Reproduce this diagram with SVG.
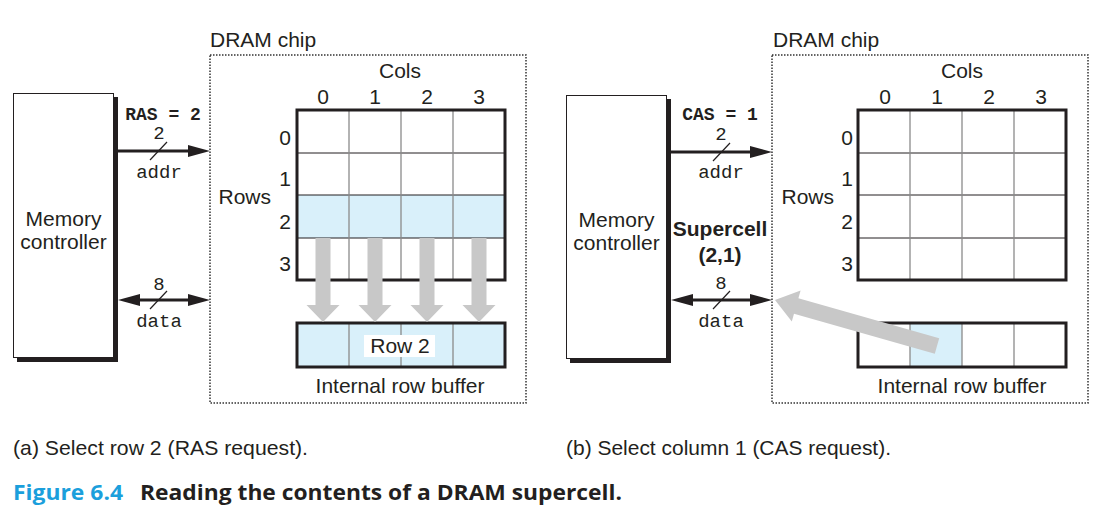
<svg xmlns="http://www.w3.org/2000/svg" width="1104" height="510" viewBox="0 0 1104 510">
<defs>
<style>
.sans{font-family:"Liberation Sans",Arial,sans-serif;fill:#231f20;font-size:21px}
.mid{text-anchor:middle}
.mono{font-family:"Liberation Mono","Courier New",monospace;fill:#231f20;font-size:19px;text-anchor:middle}
.monob{font-family:"Liberation Mono","Courier New",monospace;fill:#231f20;font-size:18px;font-weight:bold;text-anchor:middle}
.box{fill:#fff;stroke:#231f20;stroke-width:1}
.shadow{fill:#231f20}
.chip{fill:none;stroke:#333;stroke-width:1.5;stroke-dasharray:1.5 1.5}
.outer{fill:none;stroke:#231f20;stroke-width:3}
.hl{stroke:#231f20;stroke-width:1}
.vl{stroke:#8a8a8a;stroke-width:1.3}
.blue{fill:#d9f0fa}
.wire{stroke:#231f20;stroke-width:3;fill:none}
.head{fill:#231f20}
.slash{stroke:#231f20;stroke-width:1.2}
.gray{fill:#c8c8c8}
</style>
</defs>
<rect width="1104" height="510" fill="#fff"/>

<!-- LEFT PANEL (a) -->
<g id="a-controller">
<rect class="shadow" x="17" y="97" width="101" height="265"/>
<rect class="box" x="13.5" y="93.5" width="100" height="264"/>
<text class="sans mid" x="63.5" y="226">Memory</text>
<text class="sans mid" x="63.5" y="249">controller</text>
</g>
<g id="a-chip">
<rect class="chip" x="210" y="55" width="316" height="348"/>
<text class="sans" x="210" y="47">DRAM chip</text>
</g>
<g id="a-array">
<rect x="297" y="195" width="208" height="43" class="blue"/>
<line class="hl" x1="297" y1="153" x2="505" y2="153"/>
<line class="hl" x1="297" y1="195" x2="505" y2="195"/>
<line class="hl" x1="297" y1="238" x2="505" y2="238"/>
<line class="vl" x1="349" y1="110" x2="349" y2="280"/>
<line class="vl" x1="401" y1="110" x2="401" y2="280"/>
<line class="vl" x1="453" y1="110" x2="453" y2="280"/>
<rect class="outer" x="297" y="110" width="208" height="170"/>
<text class="sans mid" x="400" y="78">Cols</text>
<text class="sans mid" x="323" y="104">0</text>
<text class="sans mid" x="375" y="104">1</text>
<text class="sans mid" x="427" y="104">2</text>
<text class="sans mid" x="479" y="104">3</text>
<text class="sans" x="271" y="204" text-anchor="end">Rows</text>
<text class="sans mid" x="285" y="145">0</text>
<text class="sans mid" x="285" y="186">1</text>
<text class="sans mid" x="285" y="229">2</text>
<text class="sans mid" x="285" y="271">3</text>
</g>
<g id="a-buffer">
<rect x="297" y="323" width="208" height="44" class="blue"/>
<line class="vl" x1="349" y1="323" x2="349" y2="367"/>
<line class="vl" x1="401" y1="323" x2="401" y2="367"/>
<line class="vl" x1="453" y1="323" x2="453" y2="367"/>
<rect class="outer" x="297" y="323" width="208" height="44"/>
<rect x="364" y="335" width="71" height="22" fill="#fff"/>
<text class="sans mid" x="400" y="353">Row 2</text>
<text class="sans mid" x="400" y="393">Internal row buffer</text>
</g>

<!-- RIGHT PANEL (b) -->
<g id="b-controller">
<rect class="shadow" x="570" y="99" width="101" height="264"/>
<rect class="box" x="566.5" y="95.5" width="100" height="263"/>
<text class="sans mid" x="616.5" y="227">Memory</text>
<text class="sans mid" x="616.5" y="250">controller</text>
</g>
<g id="b-chip">
<rect class="chip" x="772" y="55" width="316" height="348"/>
<text class="sans" x="773" y="47">DRAM chip</text>
</g>
<g id="b-array">
<line class="hl" x1="858" y1="153" x2="1066" y2="153"/>
<line class="hl" x1="858" y1="195" x2="1066" y2="195"/>
<line class="hl" x1="858" y1="238" x2="1066" y2="238"/>
<line class="vl" x1="910" y1="110" x2="910" y2="280"/>
<line class="vl" x1="962" y1="110" x2="962" y2="280"/>
<line class="vl" x1="1014" y1="110" x2="1014" y2="280"/>
<rect class="outer" x="858" y="110" width="208" height="170"/>
<text class="sans mid" x="962" y="78">Cols</text>
<text class="sans mid" x="885" y="104">0</text>
<text class="sans mid" x="937" y="104">1</text>
<text class="sans mid" x="989" y="104">2</text>
<text class="sans mid" x="1041" y="104">3</text>
<text class="sans" x="834" y="204" text-anchor="end">Rows</text>
<text class="sans mid" x="847" y="145">0</text>
<text class="sans mid" x="847" y="186">1</text>
<text class="sans mid" x="847" y="229">2</text>
<text class="sans mid" x="847" y="271">3</text>
</g>
<g id="b-buffer">
<rect x="910" y="323" width="52" height="44" class="blue"/>
<line class="vl" x1="910" y1="323" x2="910" y2="367"/>
<line class="vl" x1="962" y1="323" x2="962" y2="367"/>
<line class="vl" x1="1014" y1="323" x2="1014" y2="367"/>
<rect class="outer" x="858" y="323" width="208" height="44"/>
<text class="sans mid" x="962" y="393">Internal row buffer</text>
</g>
<g id="b-supercell">
<text class="sans mid" x="720" y="236" font-weight="bold">Supercell</text>
<text class="sans mid" x="720" y="262" font-weight="bold">(2,1)</text>
</g>

<!-- CONNECTORS -->
<g id="connectors">
<line class="wire" x1="118" y1="151" x2="192" y2="151"/>
<polygon class="head" points="188,145 210,151 188,157"/>
<line class="slash" x1="150" y1="160" x2="167" y2="142"/>
<line class="wire" x1="136" y1="300" x2="192" y2="300"/>
<polygon class="head" points="140,294 118,300 140,306"/>
<polygon class="head" points="188,294 210,300 188,306"/>
<line class="slash" x1="150" y1="309" x2="167" y2="291"/>
<polygon class="gray" points="315.5,238 330.5,238 330.5,305 339.5,305 323,322 306.5,305 315.5,305"/>
<polygon class="gray" points="367.5,238 382.5,238 382.5,305 391.5,305 375,322 358.5,305 367.5,305"/>
<polygon class="gray" points="419.5,238 434.5,238 434.5,305 443.5,305 427,322 410.5,305 419.5,305"/>
<polygon class="gray" points="471.5,238 486.5,238 486.5,305 495.5,305 479,322 462.5,305 471.5,305"/>
<line class="wire" x1="671" y1="152" x2="754" y2="152"/>
<polygon class="head" points="750,146 772,152 750,158"/>
<line class="slash" x1="713" y1="161" x2="730" y2="143"/>
<line class="wire" x1="689" y1="300" x2="754" y2="300"/>
<polygon class="head" points="693,294 671,300 693,306"/>
<polygon class="head" points="750,294 772,300 750,306"/>
<line class="slash" x1="713" y1="309" x2="730" y2="291"/>
<polygon class="gray" points="939.2,338.3 798.4,298.3 800.6,290.6 775,300 791.8,321.4 794,313.7 934.8,353.7"/>
</g>

<g id="labels">
<text class="monob" x="163" y="120">RAS = 2</text>
<text class="mono" x="159" y="139">2</text>
<text class="mono" x="159" y="178">addr</text>
<text class="mono" x="159" y="290">8</text>
<text class="mono" x="159" y="327">data</text>
<text class="monob" x="720" y="120">CAS = 1</text>
<text class="mono" x="721" y="140">2</text>
<text class="mono" x="721" y="178">addr</text>
<text class="mono" x="721" y="289">8</text>
<text class="mono" x="721" y="327">data</text>
</g>

<g id="captions">
<text class="sans" x="13" y="455" font-size="20" textLength="295" lengthAdjust="spacingAndGlyphs">(a) Select row 2 (RAS request).</text>
<text class="sans" x="566" y="455" font-size="20" textLength="325" lengthAdjust="spacingAndGlyphs">(b) Select column 1 (CAS request).</text>
<text x="13" y="500" font-family="'Open Sans','Liberation Sans',sans-serif" font-weight="bold" font-size="21" fill="#1b9fdc" textLength="110" lengthAdjust="spacingAndGlyphs">Figure 6.4</text>
<text x="140" y="500" font-family="'Open Sans','Liberation Sans',sans-serif" font-weight="bold" font-size="21" fill="#231f20" textLength="482" lengthAdjust="spacingAndGlyphs">Reading the contents of a DRAM supercell.</text>
</g>
</svg>
